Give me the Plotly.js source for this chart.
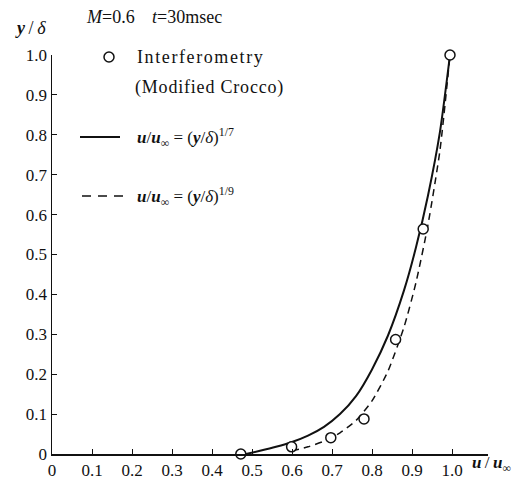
<!DOCTYPE html>
<html>
<head>
<meta charset="utf-8">
<script src="https://cdn.plot.ly/plotly-3.0.1.min.js"></script>
<style>html,body{margin:0;padding:0;background:#fff;}#chart{width:520px;height:480px;}</style>
</head>
<body>
<div id="chart"></div>
<script>
// Interferometry (Modified Crocco) measured points
const dataU = [0.472, 0.599, 0.697, 0.78, 0.859, 0.928, 0.995];
const dataY = [0.0, 0.018, 0.041, 0.088, 0.287, 0.564, 1.0];

// Solid curve u/u∞ = (y/δ)^(1/7)
const solidU = [0.485, 0.52, 0.56, 0.6, 0.64, 0.68, 0.72, 0.76, 0.8, 0.84, 0.88, 0.91, 0.94, 0.97, 0.995];
const solidY = [0.0, 0.008, 0.018, 0.03, 0.046, 0.068, 0.1, 0.145, 0.212, 0.297, 0.41, 0.518, 0.648, 0.808, 1.0];

// Dashed curve u/u∞ = (y/δ)^(1/9)
const dashU = [0.6, 0.64, 0.68, 0.72, 0.76, 0.8, 0.84, 0.88, 0.91, 0.94, 0.97, 0.995];
const dashY = [0.008, 0.018, 0.032, 0.053, 0.084, 0.133, 0.208, 0.318, 0.43, 0.575, 0.762, 1.0];

const xTickVals = [0, 0.1, 0.2, 0.3, 0.4, 0.5, 0.6, 0.7, 0.8, 0.9, 1.0];
const xTickText = ['0', '0.1', '0.2', '0.3', '0.4', '0.5', '0.6', '0.7', '0.8', '0.9', '1.0'];
const yTickVals = [0, 0.1, 0.2, 0.3, 0.4, 0.5, 0.6, 0.7, 0.8, 0.9, 1.0];
const yTickText = ['0', '0.1', '0.2', '0.3', '0.4', '0.5', '0.6', '0.7', '0.8', '0.9', '1.0'];

const seriesNames = ['Interferometry (Modified Crocco)', 'u/u∞ = (y/δ)^1/7', 'u/u∞ = (y/δ)^1/9'];

const ink = '#111';
const serif = 'Liberation Serif, Times New Roman, serif';

const traces = [
  {x: solidU, y: solidY, mode: 'lines', name: seriesNames[1], line: {color: ink, width: 2, shape: 'spline', smoothing: 0.6}, cliponaxis: false},
  {x: dashU, y: dashY, mode: 'lines', name: seriesNames[2], line: {color: ink, width: 1.5, dash: '7px,5px', shape: 'spline', smoothing: 0.6}, cliponaxis: false},
  {x: dataU, y: dataY, mode: 'markers', name: seriesNames[0], marker: {symbol: 'circle', size: 10, color: '#fff', line: {color: ink, width: 1.5}}, cliponaxis: false}
];

const nb = '\u00a0';
const th = '\u2009';
const sp = (t, s) => '<span style="letter-spacing:' + s + 'px">' + t + '</span>';
const formula = (e) => '<b><i>u</i></b>/<b><i>u</i></b><sub>∞</sub>' + nb + '=' + nb + '(<b><i>y</i></b>/<i>δ</i>)<sup>' + e + '</sup>';

// paper-coordinate helpers (plot area: x 52..488 px, y 55..454 px)
const px = (p) => (p - 52) / 436;
const py = (p) => (454 - p) / 399;

const layout = {
  width: 520, height: 480,
  margin: {l: 52, r: 32, t: 55, b: 26, pad: 0},
  paper_bgcolor: '#fff', plot_bgcolor: '#fff',
  showlegend: false,
  font: {family: serif, color: ink, size: 17},
  xaxis: {
    range: [0, 1.09], showgrid: false, zeroline: false,
    showline: true, linecolor: ink, linewidth: 1.5,
    ticks: 'inside', ticklen: 5, tickwidth: 1, tickcolor: ink,
    tickvals: xTickVals, ticktext: xTickText,
    tickfont: {family: serif, size: 17, color: ink}, fixedrange: true
  },
  yaxis: {
    range: [0, 1.0], showgrid: false, zeroline: false,
    showline: true, linecolor: ink, linewidth: 1.5,
    ticks: 'inside', ticklen: 5, tickwidth: 1, tickcolor: ink,
    tickvals: yTickVals, ticktext: yTickText,
    tickfont: {family: serif, size: 17, color: ink}, fixedrange: true
  },
  shapes: [
    {type: 'circle', xref: 'paper', yref: 'paper', xsizemode: 'pixel', ysizemode: 'pixel',
     xanchor: px(109), yanchor: py(57), x0: -5, x1: 5, y0: -5, y1: 5,
     line: {color: ink, width: 1.5}, fillcolor: '#fff'},
    {type: 'line', xref: 'paper', yref: 'paper', x0: px(80), x1: px(120), y0: py(137), y1: py(137),
     line: {color: ink, width: 2}},
    {type: 'line', xref: 'paper', yref: 'paper', x0: px(82), x1: px(124), y0: py(196), y1: py(196),
     line: {color: ink, width: 1.5, dash: '9px,7px'}}
  ],
  annotations: [
    {xref: 'paper', yref: 'paper', x: px(84), y: py(17), xanchor: 'left', yanchor: 'middle', showarrow: false,
     text: '<i>M</i>=0.6', font: {size: 18}},
    {xref: 'paper', yref: 'paper', x: px(150), y: py(17), xanchor: 'left', yanchor: 'middle', showarrow: false,
     text: '<i>t</i>=30msec', font: {size: 18}},
    {xref: 'paper', yref: 'paper', x: px(30), y: py(28), xanchor: 'center', yanchor: 'middle', showarrow: false,
     text: '<b><i>y</i></b>' + th + '/' + th + '<i>δ</i>', font: {size: 18}},
    {xref: 'paper', yref: 'paper', x: px(135), y: py(57), xanchor: 'left', yanchor: 'middle', showarrow: false,
     text: sp('Interferometry', 1.6), font: {size: 18}},
    {xref: 'paper', yref: 'paper', x: px(133), y: py(87), xanchor: 'left', yanchor: 'middle', showarrow: false,
     text: sp('(Modified Crocco)', 0.8), font: {size: 18}},
    {xref: 'paper', yref: 'paper', x: px(135), y: py(137), xanchor: 'left', yanchor: 'middle', showarrow: false,
     text: formula('1/7'), font: {size: 17}},
    {xref: 'paper', yref: 'paper', x: px(135), y: py(196), xanchor: 'left', yanchor: 'middle', showarrow: false,
     text: formula('1/9'), font: {size: 17}},
    {xref: 'paper', yref: 'paper', x: px(470), y: py(464), xanchor: 'left', yanchor: 'middle', showarrow: false,
     text: '<b><i>u</i></b>' + th + '/' + th + '<b><i>u</i></b><sub>∞</sub>', font: {size: 17}}
  ]
};

Plotly.newPlot('chart', traces, layout, {staticPlot: true, displayModeBar: false});
</script>
</body>
</html>
